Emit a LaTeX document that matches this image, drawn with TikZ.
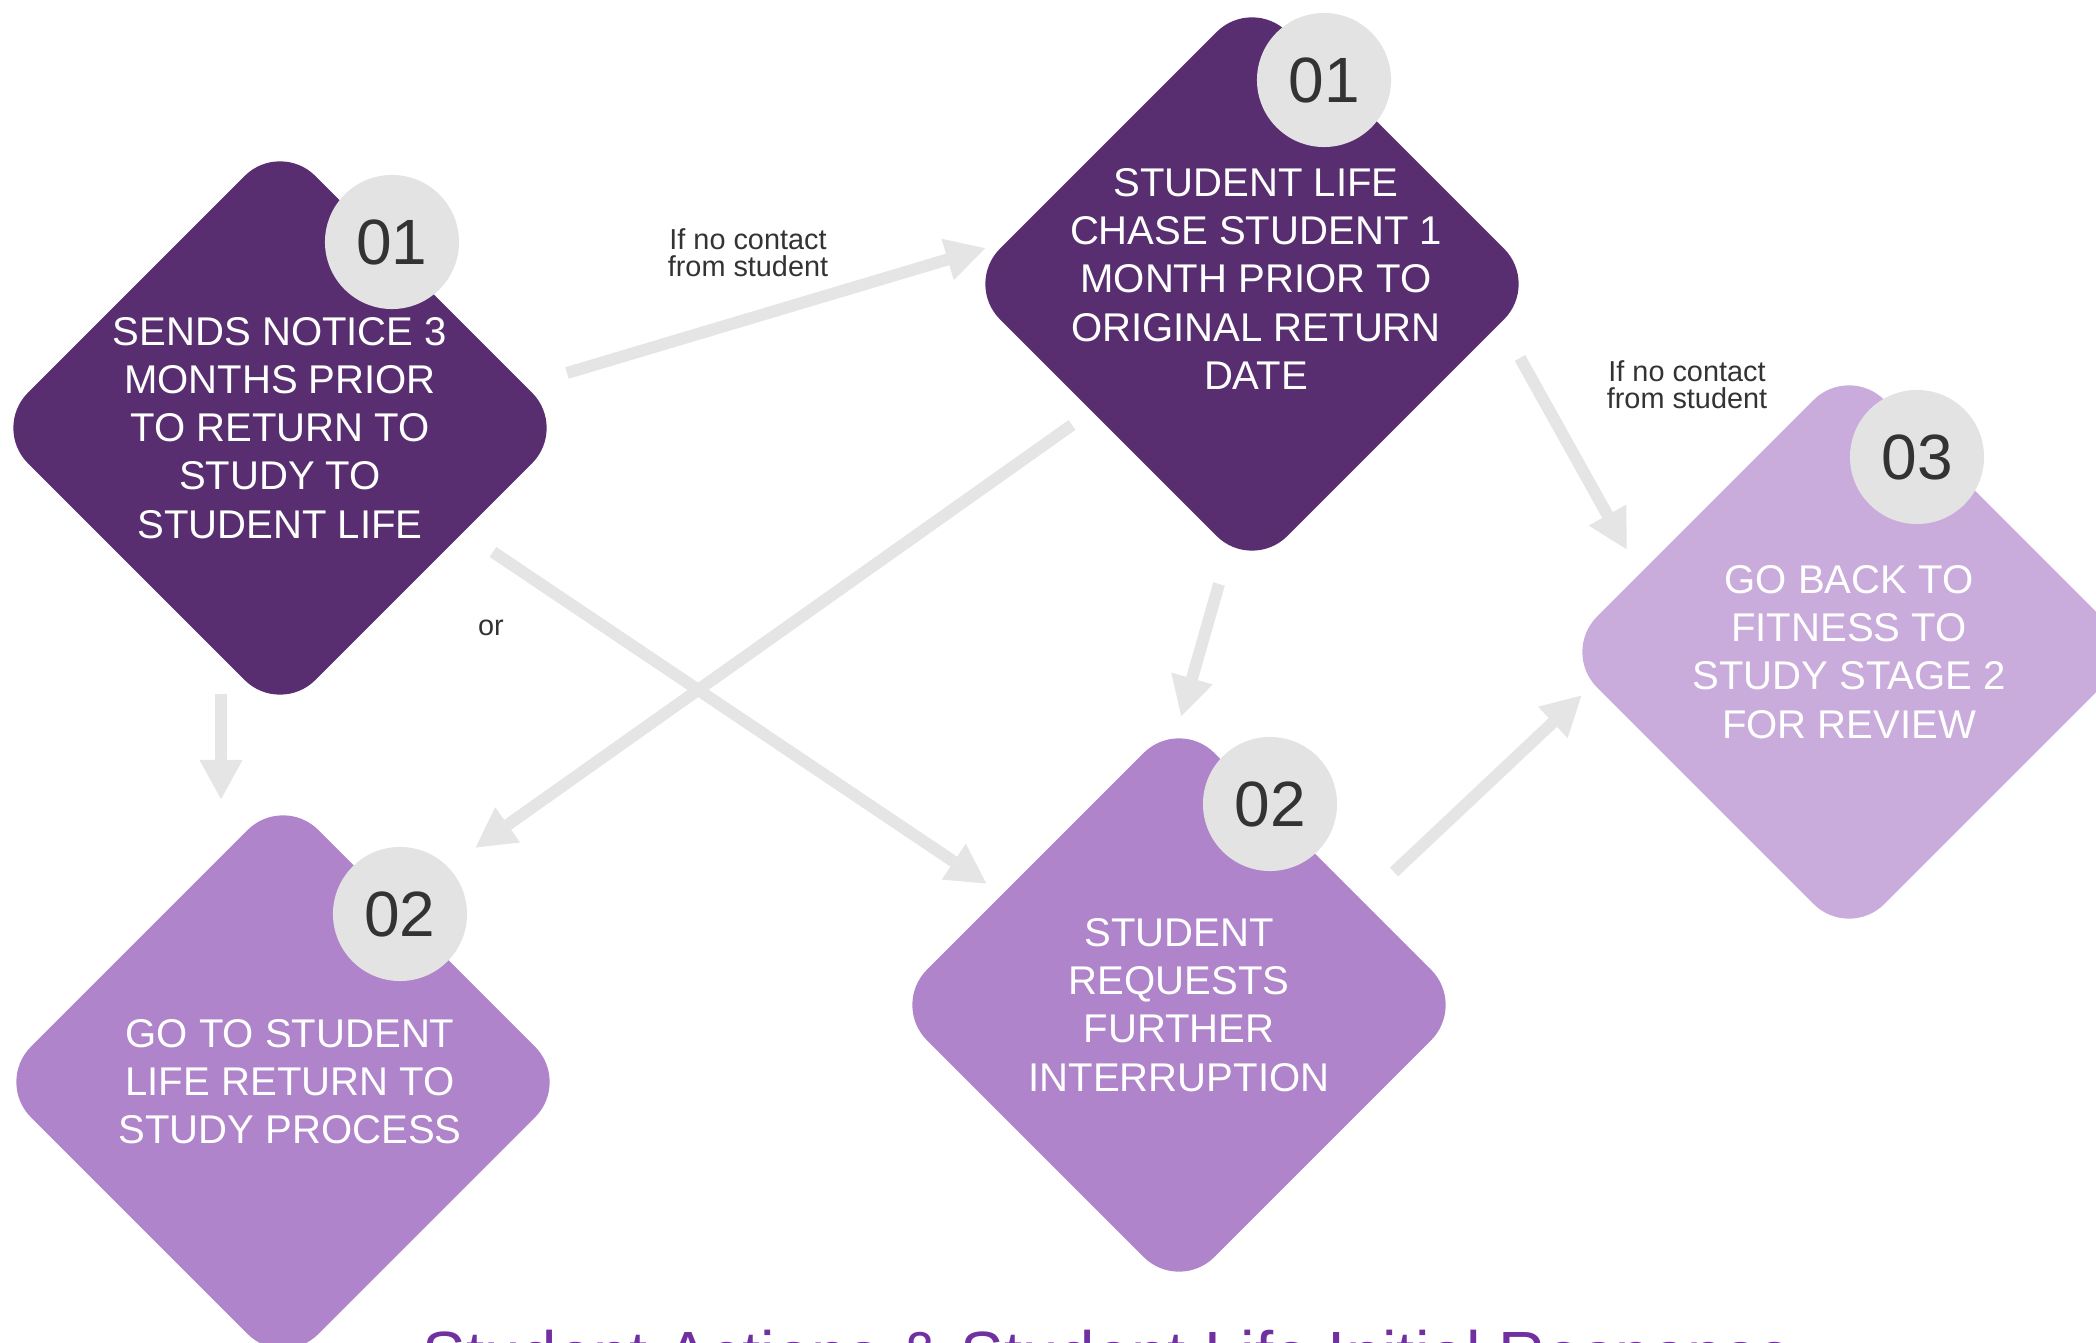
\documentclass[tikz,border=0pt]{standalone}
\usepackage{fontspec}
\setmainfont{Liberation Sans}
\usepackage{tikz}
\usetikzlibrary{arrows.meta,shapes.geometric}
\definecolor{stepdark}{HTML}{582E70}
\definecolor{stepmid}{HTML}{AF84CA}
\definecolor{steplight}{HTML}{C9ACDB}
\definecolor{dotgray}{HTML}{E3E3E3}
\definecolor{flowgray}{HTML}{E5E5E5}
\definecolor{numgray}{HTML}{333333}
\definecolor{titlepurple}{HTML}{7030A0}

\begin{document}
\begin{tikzpicture}[x=0.01cm,y=-0.01cm,
  stepbox/.style={diamond,rounded corners=0.5cm,minimum width=5.75cm,minimum height=5.75cm,inner sep=0pt},
  steptxt/.style={text=white,align=center,inner sep=0pt,font=\fontsize{11.4pt}{13.7pt}\selectfont},
  numdot/.style={circle,fill=dotgray,minimum size=1.34cm,inner sep=0pt,text=numgray,font=\fontsize{18.2pt}{20pt}\selectfont},
  flow/.style={-{Triangle[length=0.40cm,width=0.40cm]},draw=flowgray,line width=0.12cm},
  flowlbl/.style={text=numgray,align=center,inner sep=0pt,font=\fontsize{8.2pt}{7.7pt}\selectfont},
  titletxt/.style={text=titlepurple,inner sep=0pt,font=\fontsize{18.6pt}{22pt}\selectfont}]
  \useasboundingbox (0,0) rectangle (2096,1343);
  \clip (0,0) rectangle (2096,1343);

  % arrow ends
  \coordinate (n2c-s) at (567,373);  \coordinate (n2c-e) at (986,248);
  \coordinate (n2r-s) at (221,694);  \coordinate (n2r-e) at (221,800);
  \coordinate (n2f-s) at (493,552);  \coordinate (n2f-e) at (987,884);
  \coordinate (c2r-s) at (1072,425); \coordinate (c2r-e) at (475,848);
  \coordinate (c2f-s) at (1219,584); \coordinate (c2f-e) at (1181,717);
  \coordinate (c2t-s) at (1520,358); \coordinate (c2t-e) at (1627,550);
  \coordinate (f2t-s) at (1394,872); \coordinate (f2t-e) at (1582,695);
  \foreach \a in {n2c,n2r,n2f,c2r,c2f,c2t,f2t}{
    \draw[flow] (\a-s) -- (\a-e);
  }

  \node[stepbox,fill=stepdark,label={[steptxt]center:{SENDS NOTICE 3\\MONTHS PRIOR\\TO RETURN TO\\STUDY TO\\STUDENT LIFE}}] (notice) at (280,428) {};
  \node[stepbox,fill=stepdark,label={[steptxt,yshift=0.05cm,xshift=0.04cm]center:{STUDENT LIFE\\CHASE STUDENT 1\\MONTH PRIOR TO\\ORIGINAL RETURN\\DATE}}] (chase) at (1252,284) {};
  \node[stepbox,fill=stepmid,label={[steptxt,xshift=0.07cm]center:{GO TO STUDENT\\LIFE RETURN TO\\STUDY PROCESS}}] (rtsproc) at (283,1082) {};
  \node[stepbox,fill=stepmid,label={[steptxt]center:{STUDENT\\REQUESTS\\FURTHER\\INTERRUPTION}}] (further) at (1179,1005) {};
  \node[stepbox,fill=steplight,label={[steptxt]center:{GO BACK TO\\FITNESS TO\\STUDY STAGE 2\\FOR REVIEW}}] (fts) at (1849,652) {};

  \node[numdot] (notice-n) at (392,242) {01};
  \node[numdot] (chase-n) at (1324,80) {01};
  \node[numdot] (rtsproc-n) at (400,914) {02};
  \node[numdot] (further-n) at (1270,804) {02};
  \node[numdot] (fts-n) at (1917,457) {03};

  \node[flowlbl] (lbl-a) at (748,253) {If no contact\\from student};
  \node[flowlbl] (lbl-b) at (1687,385) {If no contact\\from student};
  \node[flowlbl] (lbl-or) at (491,628) {or};

  \node[titletxt,anchor=base] (title) at (1108,1377) {Student Actions \& Student Life Initial Response};
\end{tikzpicture}
\end{document}
